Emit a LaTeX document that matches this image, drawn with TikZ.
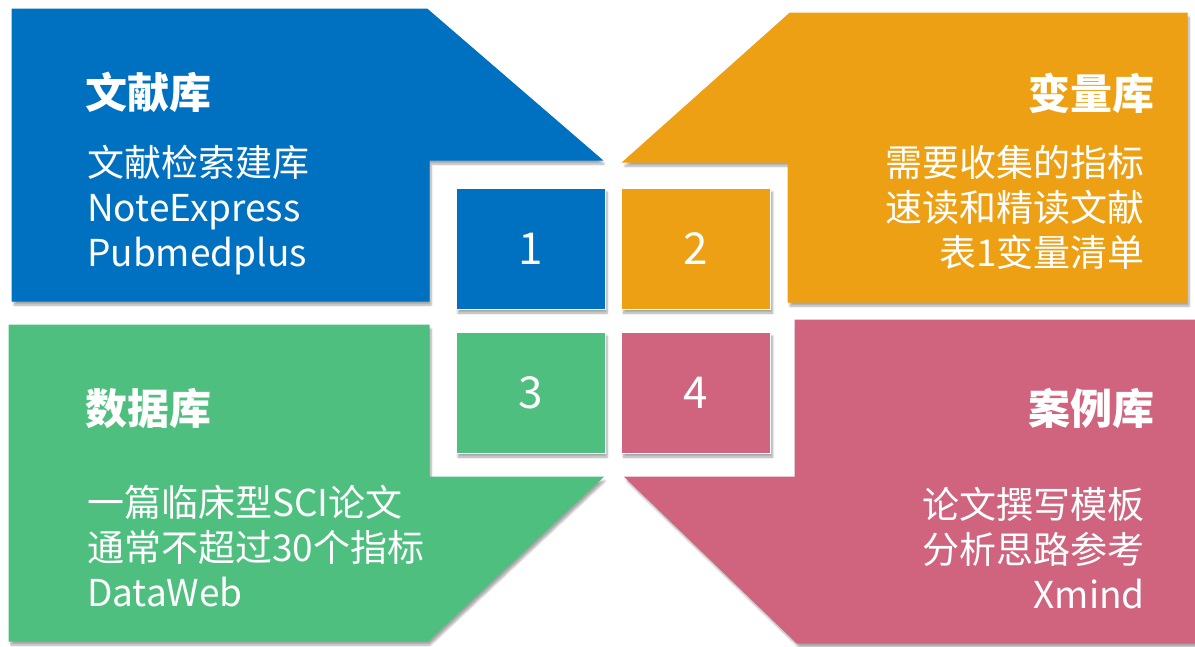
\documentclass[tikz,border=0pt]{standalone}
\usepackage{fontspec}
\setmainfont{Noto Sans CJK SC}
\usepackage{tikz}
\usetikzlibrary{positioning,shadows.blur}
\definecolor{libblue}{RGB}{0,112,192}
\definecolor{liborange}{RGB}{237,160,19}
\definecolor{libgreen}{RGB}{79,191,127}
\definecolor{libpink}{RGB}{208,100,127}
\tikzset{x=1pt,y=-1pt,
         panel/.style={draw=white,line width=1pt,
                       blur shadow={shadow xshift=2pt,shadow yshift=-4pt,
                                    shadow blur steps=6,shadow opacity=35}},
         numbox/.style={panel,minimum width=149pt,minimum height=121pt,
                        inner sep=0pt,text=white,font=\fontsize{44}{48}\selectfont},
         title/.style={inner sep=0pt,text=white,font=\fontsize{42}{46}\selectfont\bfseries},
         body/.style={inner sep=0pt,text=white,font=\fontsize{37}{45}\selectfont}}

\begin{document}
\begin{tikzpicture}
	\useasboundingbox (0,0) rectangle (1195,646);

	% the four corner panels
	\fill[panel,libblue]   (12,9) -- (427,9) -- (602,160) -- (429,160) -- (429,301) -- (12,301) -- cycle;
	\fill[panel,liborange] (623,162) -- (790,13) -- (1187,13) -- (1187,302) -- (788,302) -- (788,162) -- cycle;
	\fill[panel,libgreen]  (9,325) -- (429,325) -- (429,477) -- (603,477) -- (428,641) -- (9,641) -- cycle;
	\fill[panel,libpink]   (795,320) -- (1195,320) -- (1195,643) -- (797,643) -- (625,477) -- (795,477) -- cycle;

	% the four numbered boxes
	\node[numbox,fill=libblue]   (n1) at (530.5,248.5) {1};
	\node[numbox,fill=liborange] (n2) at (696,248.5)   {2};
	\node[numbox,fill=libgreen]  (n3) at (530.5,392.5) {3};
	\node[numbox,fill=libpink]   (n4) at (696,392.5)   {4};

	% titles
	\node[title,anchor=north west] (t1) at (85,72)   {文献库};
	\node[title,anchor=north east] (t2) at (1155,73) {变量库};
	\node[title,anchor=north west] (t3) at (85,388)  {数据库};
	\node[title,anchor=north east] (t4) at (1155,388) {案例库};

	% contents
	\node[body,anchor=north west,align=left]  (b1) at (87,145)
		{文献检索建库\\NoteExpress\\Pubmedplus};
	\node[body,anchor=north east,align=right] (b2) at (1145,145)
		{需要收集的指标\\速读和精读文献\\表1变量清单};
	\node[body,anchor=north west,align=left]  (b3) at (87,485)
		{一篇临床型SCI论文\\通常不超过30个指标\\DataWeb};
	\node[body,anchor=north east,align=right] (b4) at (1145,487)
		{论文撰写模板\\分析思路参考\\Xmind};
\end{tikzpicture}
\end{document}
